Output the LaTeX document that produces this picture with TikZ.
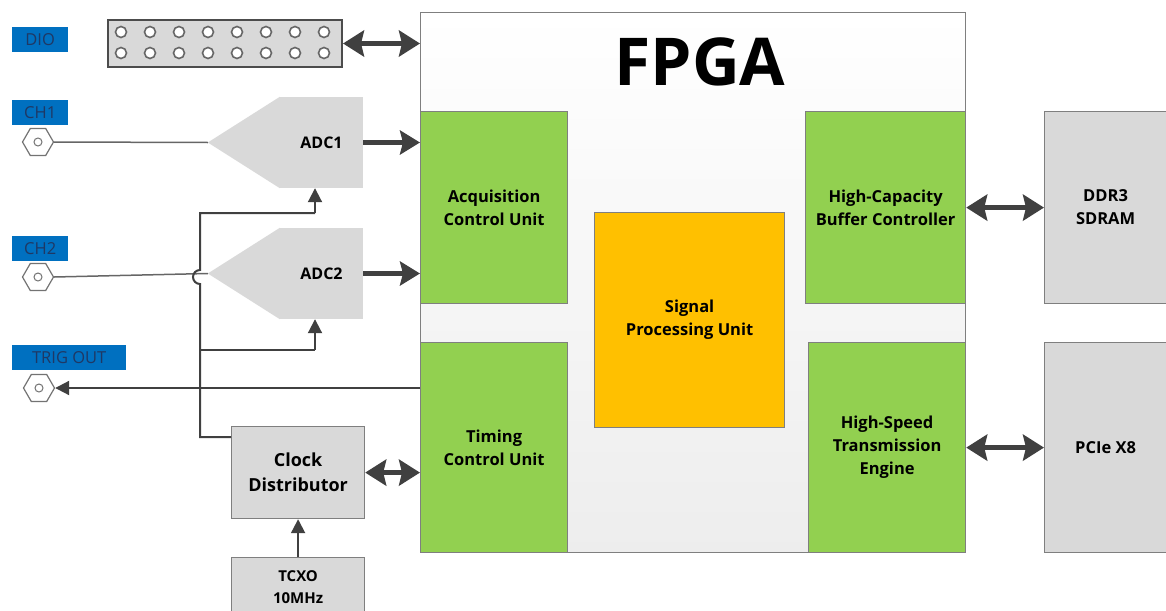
\documentclass[tikz,border=0pt]{standalone}
\usepackage{fontspec}
\setmainfont{Open Sans}
\usepackage{tikz}
\usetikzlibrary{arrows.meta,shapes.geometric}
\definecolor{unitgreen}{HTML}{92D050}
\definecolor{spuorange}{HTML}{FFC000}
\definecolor{partgray}{HTML}{D9D9D9}
\definecolor{tagblue}{HTML}{0070C0}
\definecolor{tagtext}{HTML}{1F3864}
\definecolor{wire}{HTML}{404040}
\definecolor{rim}{HTML}{7F7F7F}
\tikzset{>=latex}
\tikzstyle{box}  = [draw=rim,
                    line width=1.2pt,
                    inner sep=0pt,
                    anchor=north west,
                    align=center,
                    font=\fontsize{16.5}{23}\selectfont\bfseries]
\tikzstyle{unit} = [box, fill=unitgreen]
\tikzstyle{part} = [box, fill=partgray]
\tikzstyle{adc}  = [fill=partgray,
                    minimum width=83pt,
                    minimum height=91pt,
                    inner sep=0pt,
                    font=\fontsize{16}{16}\selectfont\bfseries]
\tikzstyle{tag}  = [fill=tagblue,
                    text=tagtext,
                    anchor=north west,
                    minimum height=25pt,
                    inner sep=1pt,
                    font=\fontsize{16.5}{16.5}\selectfont]
\tikzstyle{jack} = [regular polygon,
                    regular polygon sides=6,
                    minimum size=31pt,
                    inner sep=0pt,
                    draw=black!55,
                    line width=1.2pt,
                    fill=white]
\tikzstyle{bus}  = [{Stealth[length=21pt,width=26pt,inset=3pt]}-{Stealth[length=21pt,width=26pt,inset=3pt]},
                    line width=5pt,
                    draw=wire]
\tikzstyle{feed} = [-{Stealth[length=20pt,width=24pt,inset=3pt]},
                    line width=4.5pt,
                    draw=wire]
\tikzstyle{clkline}  = [line width=2pt, draw=wire]
\tikzstyle{clkarrow} = [clkline, -{Triangle[length=14pt,width=14pt]}]
\tikzstyle{sigline}  = [line width=1.5pt, draw=black!60]

\begin{document}
\begin{tikzpicture}[x=1pt,y=-1pt]
  \useasboundingbox (0,0) rectangle (1166,610);

  % FPGA
  \node[box, top color=white, bottom color=black!7, minimum width=545pt, minimum height=540pt] (fpga) at (420,12) {};
  \node[font=\fontsize{66}{70}\selectfont\bfseries] (title) at (700,62) {FPGA};

  % Nodes
  \node[unit, minimum width=147pt, minimum height=192pt] (acq) at (420,111) {Acquisition\\Control Unit};
  \node[unit, minimum width=147pt, minimum height=210pt] (tim) at (420,342) {Timing\\Control Unit};
  \node[box, fill=spuorange, minimum width=190pt, minimum height=215pt] (spu) at (594,212) {Signal\\Processing Unit};
  \node[unit, minimum width=160pt, minimum height=192pt] (hcb) at (805,111) {High-Capacity\\Buffer Controller};
  \node[unit, minimum width=157pt, minimum height=210pt] (hst) at (808,342) {High-Speed\\Transmission\\Engine};
  \node[part, minimum width=122pt, minimum height=192pt] (ddr) at (1044,111) {DDR3\\SDRAM};
  \node[part, minimum width=122pt, minimum height=210pt] (pcie) at (1044,342) {PCIe X8};
  \node[part, minimum width=133pt, minimum height=92pt, font=\fontsize{18}{25}\selectfont\bfseries] (clk) at (231,426) {Clock\\Distributor};
  \node[part, minimum width=133pt, minimum height=60pt, font=\fontsize{15}{22}\selectfont\bfseries] (tcxo) at (231,557) {TCXO\\10MHz};

  % DIO header
  \node[part, line width=2pt, draw=black!70, minimum width=234pt, minimum height=47pt] (dio) at (107,19) {};
  \foreach \i in {0,...,7}
    \foreach \y in {32,53}
      \draw[black!60, line width=1.6pt, fill=white] (121+29*\i,\y) circle (5.5);

  % Tags and jacks
  \node[tag, minimum width=56pt] (diotag) at (12,27) {DIO};
  \node[tag, minimum width=56pt] (ch1tag) at (12,100) {CH1};
  \node[tag, minimum width=56pt] (ch2tag) at (12,236) {CH2};
  \node[tag, minimum width=114pt] (trigtag) at (12,345) {TRIG OUT};
  \node[jack] (ch1) at (38,142) {};
  \node[jack] (ch2) at (38,277) {};
  \node[jack] (trig) at (39,388) {};
  \foreach \j in {ch1,ch2,trig}
    \draw[black!55, line width=1pt] (\j) circle (4);

  % ADCs
  \node[adc] (adc1) at (321.5,142.5) {ADC1};
  \node[adc] (adc2) at (321.5,273.5) {ADC2};
  \foreach \a in {adc1,adc2} {
    \coordinate (\a tip) at ([xshift=-72pt]\a.west);
    \fill[partgray] (\a.north west) -- (\a tip) -- (\a.south west) -- cycle;
  }

  % Edges
  \draw[sigline] (ch1.east) -- (adc1tip);
  \draw[sigline] (ch2.east) -- (adc2tip);
  \draw[bus] (dio.east) -- (dio.east -| fpga.west);
  \draw[feed] (adc1.east) -- (adc1.east -| acq.west);
  \draw[feed] (adc2.east) -- (adc2.east -| acq.west);
  \draw[bus] (clk.east) -- (clk.east -| tim.west);
  \draw[bus] (hcb.east) -- (ddr.west);
  \draw[bus] (hst.east) -- (pcie.west);
  \draw[clkarrow] (tcxo.north) -- (clk.south);
  \draw[clkarrow] (tim.west |- trig) -- (trig.east);

  % Clock tree
  \coordinate (clkjoin) at (200,437);
  \coordinate (tap1) at (315,213);
  \coordinate (tap2) at (315,350);
  \draw[clkline] (clkjoin -| clk.west) -- (clkjoin) -- (200,284)
    arc[start angle=90, end angle=270, radius=7] -- (200,213) -- (tap1);
  \draw[clkline] (200,350) -- (tap2);
  \draw[clkarrow] (tap1) -- (tap1 |- adc1.south);
  \draw[clkarrow] (tap2) -- (tap2 |- adc2.south);

\end{tikzpicture}
\end{document}
